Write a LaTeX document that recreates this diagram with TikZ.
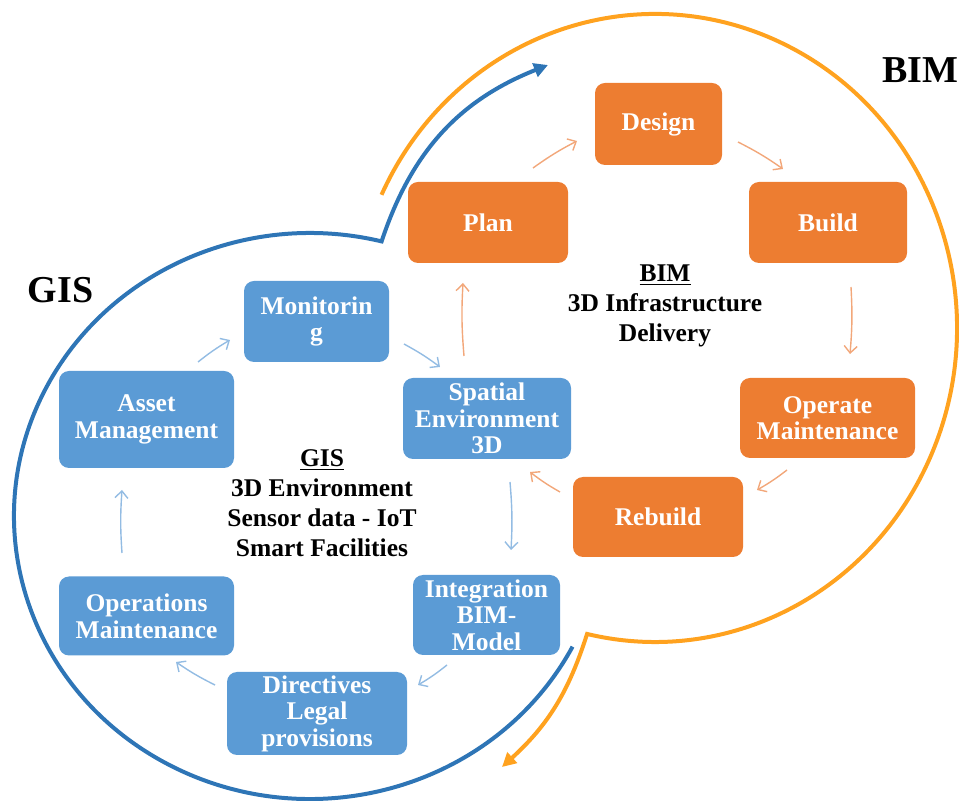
\documentclass[tikz,border=0pt]{standalone}
\usepackage{fontspec}
\setmainfont{Liberation Serif}
\usetikzlibrary{arrows.meta,calc}

\definecolor{gisline}{HTML}{2E75B6}
\definecolor{bimline}{HTML}{FFA21F}
\definecolor{gisbox}{HTML}{5B9BD5}
\definecolor{bimbox}{HTML}{ED7D31}
\definecolor{gisarrow}{HTML}{93BCE3}
\definecolor{bimarrow}{HTML}{F2A77A}

\begin{document}
\begin{tikzpicture}[x=0.5pt,y=0.5pt,
  card/.style={rounded corners=5pt, text=white, align=center, inner sep=0pt,
    font=\bfseries\fontsize{12.75}{13.3}\selectfont},
  giscard/.style={card, fill=gisbox},
  bimcard/.style={card, fill=bimbox},
  gisflow/.style={draw=gisarrow, line width=0.7pt,
    -{Straight Barb[length=3.5pt,width=6.5pt]}},
  bimflow/.style={draw=bimarrow, line width=0.7pt,
    -{Straight Barb[length=3.5pt,width=6.5pt]}},
  ring/.style={line width=2pt, line join=miter,
    -{Triangle[length=7pt,width=7pt]}},
  note/.style={align=center, font=\bfseries\fontsize{12.75}{15}\selectfont},
  title/.style={font=\bfseries\fontsize{19}{22}\selectfont}
]
\useasboundingbox (0,0) rectangle (959,-801);

% ring centres and arrow tips
\coordinate (bimc) at (655,-328);
\coordinate (gisc) at (310,-516);
\coordinate (btip) at (548,-65);
\coordinate (otip) at (502,-767);

% BIM ring (orange) with its outgoing arrow
\draw[ring, draw=bimline, fill=none]
  ($(bimc)+(154.9:151pt and 157pt)$)
  arc[start angle=154.9, end angle=-103, x radius=151pt, y radius=157pt]
  to[bend left=15] (otip);

% GIS ring (blue) with its outgoing arrow
\draw[ring, draw=gisline, fill=none]
  ($(gisc)+(-27.5:148pt and 141.5pt)$)
  arc[start angle=-27.5, end angle=-284, x radius=148pt, y radius=141.5pt]
  to[bend left=25] (btip);

% titles
\node[title] (bimtitle) at (920,-70) {BIM};
\node[title] (gistitle) at (60.5,-290) {GIS};

% BIM cycle
\node[bimcard, minimum width=63.5pt, minimum height=41pt] (design) at (658.5,-124) {Design};
\node[bimcard, minimum width=80pt, minimum height=40.5pt] (plan) at (488,-222.5) {Plan};
\node[bimcard, minimum width=79pt, minimum height=40.5pt] (build) at (828,-222.5) {Build};
\node[bimcard, minimum width=87.5pt, minimum height=40pt] (operate) at (827.5,-418) {Operate\\Maintenance};
\node[bimcard, minimum width=85pt, minimum height=40pt] (rebuild) at (658,-517) {Rebuild};

% GIS cycle
\node[giscard, minimum width=84pt, minimum height=40.5pt] (spatial) at (487,-418.5) {Spatial\\Environment\\3D};
\node[giscard, minimum width=72.5pt, minimum height=40.5pt] (monitor) at (316.5,-321.5) {Monitorin\\g};
\node[giscard, minimum width=87.5pt, minimum height=48.5pt] (asset) at (146.5,-419.5) {Asset\\Management};
\node[giscard, minimum width=87.5pt, minimum height=39.5pt] (operations) at (146.5,-616) {Operations\\Maintenance};
\node[giscard, minimum width=73.5pt, minimum height=40pt] (integration) at (486.5,-615) {Integration\\BIM-\\Model};
\node[giscard, minimum width=90pt, minimum height=41.5pt] (directives) at (317,-713.5) {Directives\\Legal\\provisions};

% centre notes
\node[note] (bimnote) at (665,-306) {\underline{BIM}\\3D Infrastructure\\Delivery};
\node[note] (gisnote) at (322,-503) {\underline{GIS}\\3D Environment\\Sensor data - IoT\\Smart Facilities};

% arrow end points of the BIM cycle
\coordinate (pd1) at (533,-168);  \coordinate (pd2) at (577,-141);
\coordinate (db1) at (738,-142);  \coordinate (db2) at (783,-169);
\coordinate (bo1) at (851,-287);  \coordinate (bo2) at (850,-354);
\coordinate (or1) at (787,-470);  \coordinate (or2) at (757,-490);
\coordinate (rs1) at (560,-492);  \coordinate (rs2) at (530,-472);
\coordinate (sp1) at (464,-356);  \coordinate (sp2) at (463,-283);

% arrow end points of the GIS cycle
\coordinate (am1) at (198,-362);  \coordinate (am2) at (230,-340);
\coordinate (ms1) at (404,-344);  \coordinate (ms2) at (440,-367);
\coordinate (si1) at (510,-482);  \coordinate (si2) at (511,-550);
\coordinate (id1) at (447,-665);  \coordinate (id2) at (418,-685);
\coordinate (do1) at (215,-685);  \coordinate (do2) at (176,-662);
\coordinate (oa1) at (122,-553);  \coordinate (oa2) at (122,-490);

\foreach \a in {pd,db,bo,or,rs,sp}
  \draw[bimflow] (\a1) to[bend left=4] (\a2);
\foreach \a in {am,ms,si,id,do,oa}
  \draw[gisflow] (\a1) to[bend left=4] (\a2);
\end{tikzpicture}
\end{document}
